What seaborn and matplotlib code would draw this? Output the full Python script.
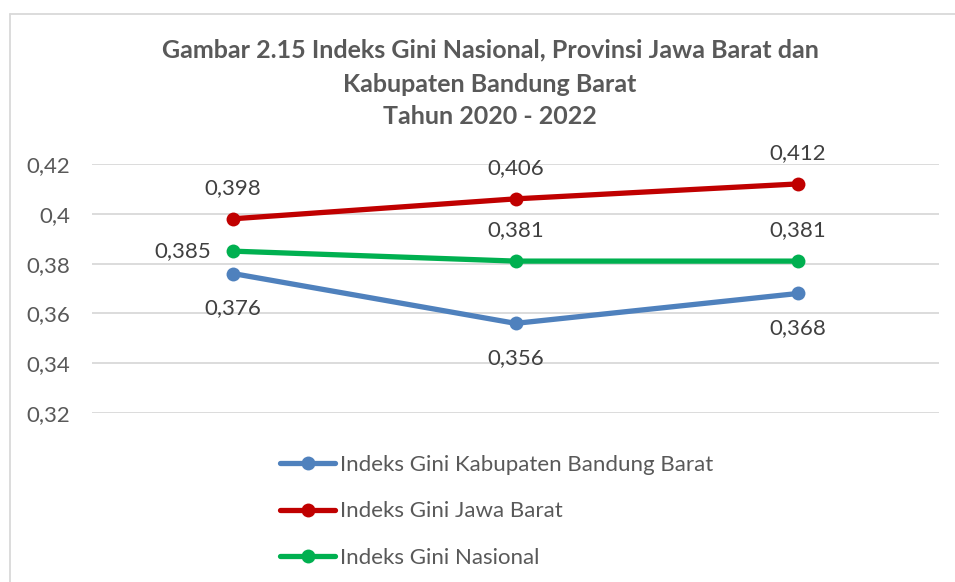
import pandas as pd
import matplotlib
matplotlib.use('Agg')
import matplotlib.pyplot as plt
import seaborn as sns
from matplotlib.lines import Line2D

tahun = ['2020', '2021', '2022']
kbb = [0.376, 0.356, 0.368]
jabar = [0.398, 0.406, 0.412]
nasional = [0.385, 0.381, 0.381]
seri = ['Indeks Gini Kabupaten Bandung Barat', 'Indeks Gini Jawa Barat', 'Indeks Gini Nasional']
warna = ['#4F81BD', '#C00000', '#00B050']
y_ticks = [0.32, 0.34, 0.36, 0.38, 0.40, 0.42]
y_labels = ['0,32', '0,34', '0,36', '0,38', '0,4', '0,42']
judul = ['Gambar 2.15 Indeks Gini Nasional, Provinsi Jawa Barat dan',
         'Kabupaten Bandung Barat',
         'Tahun 2020 - 2022']

df = pd.DataFrame({
    'Tahun': tahun * 3,
    'Nilai': kbb + jabar + nasional,
    'Seri': [seri[0]] * 3 + [seri[1]] * 3 + [seri[2]] * 3,
})

sns.set_style('white')
plt.rcParams['font.family'] = ['Lato', 'DejaVu Sans']
abu = '#595959'
fs = 16

fig = plt.figure(figsize=(9.55, 5.82), dpi=100)
ax = fig.add_axes([92 / 955, 1 - 413 / 582, (939 - 92) / 955, (413 - 164) / 582])

sns.lineplot(data=df, x='Tahun', y='Nilai', hue='Seri', palette=warna,
             marker='o', markersize=10, markeredgewidth=0, linewidth=3.8,
             ax=ax, legend=False)

ax.set_xlim(-0.5, 2.5)
ax.set_ylim(0.32, 0.42)
ax.set_yticks(y_ticks)
ax.set_yticklabels(y_labels, color=abu, fontsize=fs)
ax.set_xticks([])
ax.set_xlabel('')
ax.set_ylabel('')
ax.tick_params(axis='y', length=0, pad=16)
ax.grid(axis='y', color='#D9D9D9', linewidth=1.3)
ax.set_axisbelow(True)
for s in ax.spines.values():
    s.set_visible(False)

# label data
posisi = {
    0: ['below', 'below', 'below'],
    1: ['above', 'above', 'above'],
    2: ['left', 'above', 'above'],
}
for i, nilai in enumerate([kbb, jabar, nasional]):
    for j, v in enumerate(nilai):
        teks = f'{v:.3f}'.replace('.', ',')
        p = posisi[i][j]
        if p == 'above':
            ax.annotate(teks, (j, v), xytext=(0, 15), textcoords='offset points',
                        ha='center', va='bottom', fontsize=fs, color='#404040')
        elif p == 'below':
            ax.annotate(teks, (j, v), xytext=(0, -18), textcoords='offset points',
                        ha='center', va='top', fontsize=fs, color='#404040')
        else:
            ax.annotate(teks, (j, v), xytext=(-16, 0), textcoords='offset points',
                        ha='right', va='center', fontsize=fs, color='#404040')

for baris, y in zip(judul, [50, 85, 117]):
    fig.text(490 / 955, 1 - y / 582, baris, ha='center', va='center',
             fontsize=18, fontweight='bold', color=abu)

handles = [Line2D([], [], color=c, linewidth=3.8, marker='o', markersize=10,
                  markeredgewidth=0) for c in warna]
fig.legend(handles, seri, loc='upper left', bbox_to_anchor=(271 / 955, 1 - 446 / 582),
           frameon=False, fontsize=fs, labelcolor=abu, handlelength=2.5,
           handletextpad=0.22, labelspacing=1.19, borderaxespad=0)

# bingkai grafik
fig.add_artist(Line2D([9.5 / 955, 9.5 / 955], [0, 1 - 13.5 / 582], color='#D9D9D9',
                      linewidth=1.3, transform=fig.transFigure))
fig.add_artist(Line2D([9.5 / 955, 1], [1 - 13.5 / 582, 1 - 13.5 / 582], color='#D9D9D9',
                      linewidth=1.3, transform=fig.transFigure))

fig.savefig('out.png', dpi=100)
